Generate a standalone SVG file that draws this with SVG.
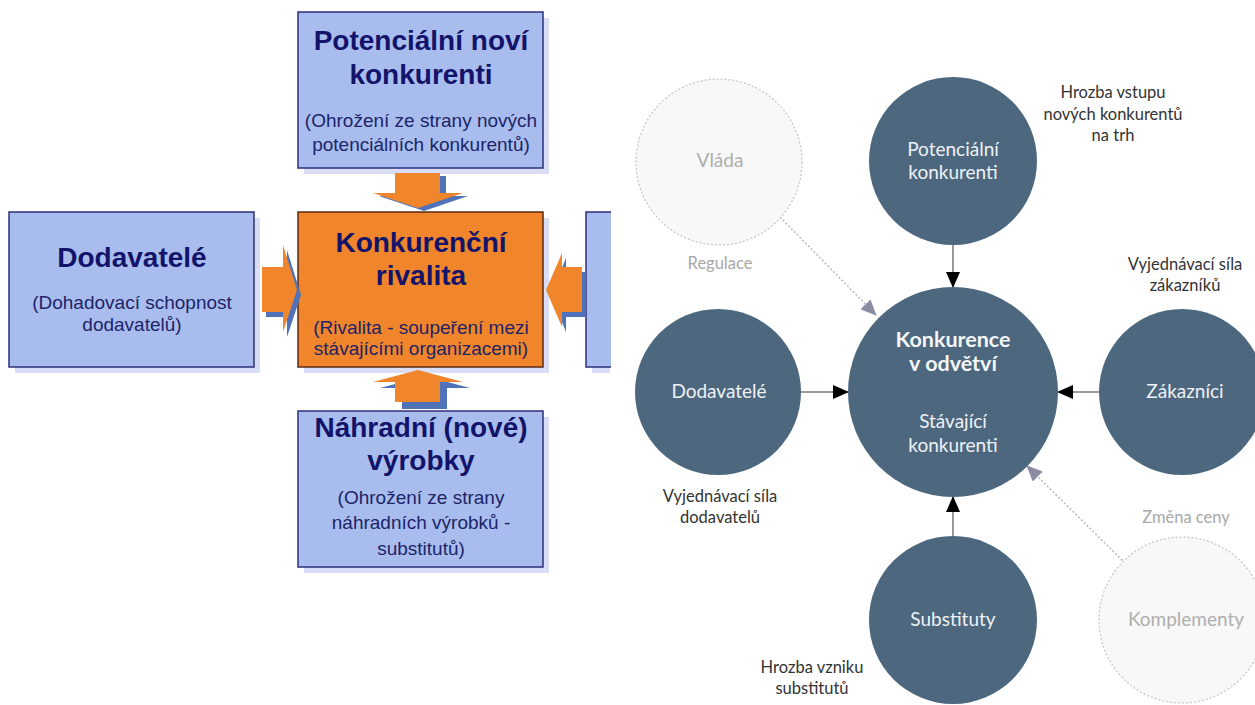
<svg xmlns="http://www.w3.org/2000/svg" width="1255" height="705" viewBox="0 0 1255 705">
<defs>
<style>
.box{fill:#a8bdee;stroke:#2e2f78;stroke-width:1.5}
.obox{fill:#f0852b;stroke:#5b2a12;stroke-width:1.5}
.shadow{fill:#d9def6}
.t1{font-family:"Liberation Sans",Arial,sans-serif;font-weight:bold;font-size:28px;fill:#13136a;text-anchor:middle}
.t2{font-family:"Liberation Sans",Arial,sans-serif;font-size:19px;fill:#1d2468;text-anchor:middle}
.oarr{fill:#f0852b}
.barr{fill:#4f72b8}
.c{fill:#4d677f}
.gc{fill:#f8f8f8;stroke:#c4c4c4;stroke-width:1.2;stroke-dasharray:2 2}
.ct{font-family:Lato,"Open Sans",sans-serif;font-size:19px;fill:#eef2f6;text-anchor:middle}
.cb{font-family:Lato,"Open Sans",sans-serif;font-size:21.5px;font-weight:bold;fill:#f4f6f8;text-anchor:middle}
.gt{font-family:Lato,"Open Sans",sans-serif;font-size:19px;fill:#aeaeae;text-anchor:middle}
.lt{font-family:Lato,"Open Sans",sans-serif;font-size:16.5px;fill:#333;text-anchor:middle}
.gl{font-family:Lato,"Open Sans",sans-serif;font-size:16.5px;fill:#a8a8a8;text-anchor:middle}
.ln{stroke:#9a9a9a;stroke-width:2;fill:none}
.dl{stroke:#b8b8c4;stroke-width:1.5;stroke-dasharray:2 2;fill:none}
</style>
<marker id="ah" markerWidth="16" markerHeight="14" refX="15" refY="7" orient="auto" markerUnits="userSpaceOnUse">
<path d="M0,0 L16,7 L0,14 Z" fill="#000"/>
</marker>
<marker id="gh" markerWidth="16" markerHeight="14" refX="15" refY="7" orient="auto" markerUnits="userSpaceOnUse">
<path d="M0,0 L16,7 L0,14 Z" fill="#8c8ca4"/>
</marker>
</defs>
<rect width="1255" height="705" fill="#fff"/>

<!-- Left panel: Porter model boxes -->
<g id="box-top">
<rect class="shadow" x="304" y="18" width="245" height="156"/>
<rect class="box" x="298" y="12" width="245" height="156"/>
<text class="t1" x="421" y="50">Potenciální noví</text>
<text class="t1" x="421" y="84">konkurenti</text>
<text class="t2" x="421" y="127">(Ohrožení ze strany nových</text>
<text class="t2" x="421" y="151">potenciálních konkurentů)</text>
</g>
<g id="box-left">
<rect class="shadow" x="15" y="218" width="245" height="155"/>
<rect class="box" x="9" y="212" width="245" height="155"/>
<text class="t1" x="132" y="267">Dodavatelé</text>
<text class="t2" x="132" y="309">(Dohadovací schopnost</text>
<text class="t2" x="132" y="331">dodavatelů)</text>
</g>
<g id="box-center">
<rect class="shadow" x="304" y="218" width="245" height="155"/>
<rect class="obox" x="298" y="212" width="245" height="155"/>
<text class="t1" x="421" y="252">Konkurenční</text>
<text class="t1" x="421" y="285">rivalita</text>
<text class="t2" x="421" y="334">(Rivalita - soupeření mezi</text>
<text class="t2" x="421" y="355">stávajícími organizacemi)</text>
</g>
<g id="box-bottom">
<rect class="shadow" x="304" y="417" width="245" height="156"/>
<rect class="box" x="298" y="411" width="245" height="156"/>
<text class="t1" x="421" y="437">Náhradní (nové)</text>
<text class="t1" x="421" y="470">výrobky</text>
<text class="t2" x="421" y="504">(Ohrožení ze strany</text>
<text class="t2" x="421" y="529">náhradních výrobků -</text>
<text class="t2" x="421" y="555">substitutů)</text>
</g>
<g id="box-right">
<rect class="shadow" x="592" y="218" width="18" height="155"/>
<rect class="box" x="586" y="212" width="30" height="155"/>
</g>
<rect x="611" y="0" width="15" height="705" fill="#fff"/>

<g id="block-arrows">
<polygon class="barr" points="401,176 446,176 446,196 468,196 424,211 379,196 401,196"/>
<polygon class="oarr" points="395,173 440,173 440,193 463,193 418,208 373,193 395,193"/>
<polygon class="barr" points="266,272 287,272 287,250 301,295 287,337 287,317 266,317"/>
<polygon class="oarr" points="262,267 283,267 283,245 297,290 283,332 283,312 262,312"/>
<polygon class="barr" points="586,272 566,272 566,258 551,295 566,332 566,317 586,317"/>
<polygon class="oarr" points="582,267 562,267 562,253 546,290 562,327 562,312 582,312"/>
<polygon class="barr" points="425,376 470,388 447,388 447,409 402,409 402,388 380,388"/>
<polygon class="oarr" points="418,370 463,382 440,382 440,402 395,402 395,382 373,382"/>
</g>

<!-- Right panel: circles -->
<g id="connectors">
<line class="ln" x1="953" y1="245" x2="953" y2="287" marker-end="url(#ah)"/>
<line class="ln" x1="801" y1="392" x2="848" y2="392" marker-end="url(#ah)"/>
<line class="ln" x1="1099" y1="392" x2="1058" y2="392" marker-end="url(#ah)"/>
<line class="ln" x1="953" y1="537" x2="953" y2="497" marker-end="url(#ah)"/>
<line class="dl" x1="780" y1="217" x2="876" y2="315" marker-end="url(#gh)"/>
<line class="dl" x1="1128" y1="566" x2="1027" y2="466" marker-end="url(#gh)"/>
</g>

<g id="vlada">
<circle class="gc" cx="719" cy="162" r="83"/>
<text class="gt" x="720" y="167">Vláda</text>
</g>
<g id="potencialni">
<circle class="c" cx="953" cy="161" r="84"/>
<text class="ct" x="953" y="156">Potenciální</text>
<text class="ct" x="953" y="179">konkurenti</text>
</g>
<g id="konkurence">
<circle class="c" cx="953" cy="392" r="105"/>
<text class="cb" x="953" y="347">Konkurence</text>
<text class="cb" x="953" y="371">v odvětví</text>
<text class="ct" x="953" y="428">Stávající</text>
<text class="ct" x="953" y="452">konkurenti</text>
</g>
<g id="dodavatele">
<circle class="c" cx="718" cy="392" r="83"/>
<text class="ct" x="719" y="398">Dodavatelé</text>
</g>
<g id="zakaznici">
<circle class="c" cx="1182" cy="392" r="83"/>
<text class="ct" x="1185" y="398">Zákazníci</text>
</g>
<g id="substituty">
<circle class="c" cx="953" cy="620" r="84"/>
<text class="ct" x="953" y="626">Substituty</text>
</g>
<g id="komplementy">
<circle class="gc" cx="1182" cy="620" r="83"/>
<text class="gt" x="1186" y="626">Komplementy</text>
</g>

<g id="labels">
<text class="lt" x="1113" y="98">Hrozba vstupu</text>
<text class="lt" x="1113" y="120">nových konkurentů</text>
<text class="lt" x="1113" y="141">na trh</text>
<text class="gl" x="720" y="269">Regulace</text>
<text class="lt" x="1185" y="270">Vyjednávací síla</text>
<text class="lt" x="1185" y="291">zákazníků</text>
<text class="lt" x="720" y="502">Vyjednávací síla</text>
<text class="lt" x="720" y="523">dodavatelů</text>
<text class="gl" x="1186" y="523">Změna ceny</text>
<text class="lt" x="812" y="673">Hrozba vzniku</text>
<text class="lt" x="812" y="694">substitutů</text>
</g>
</svg>
